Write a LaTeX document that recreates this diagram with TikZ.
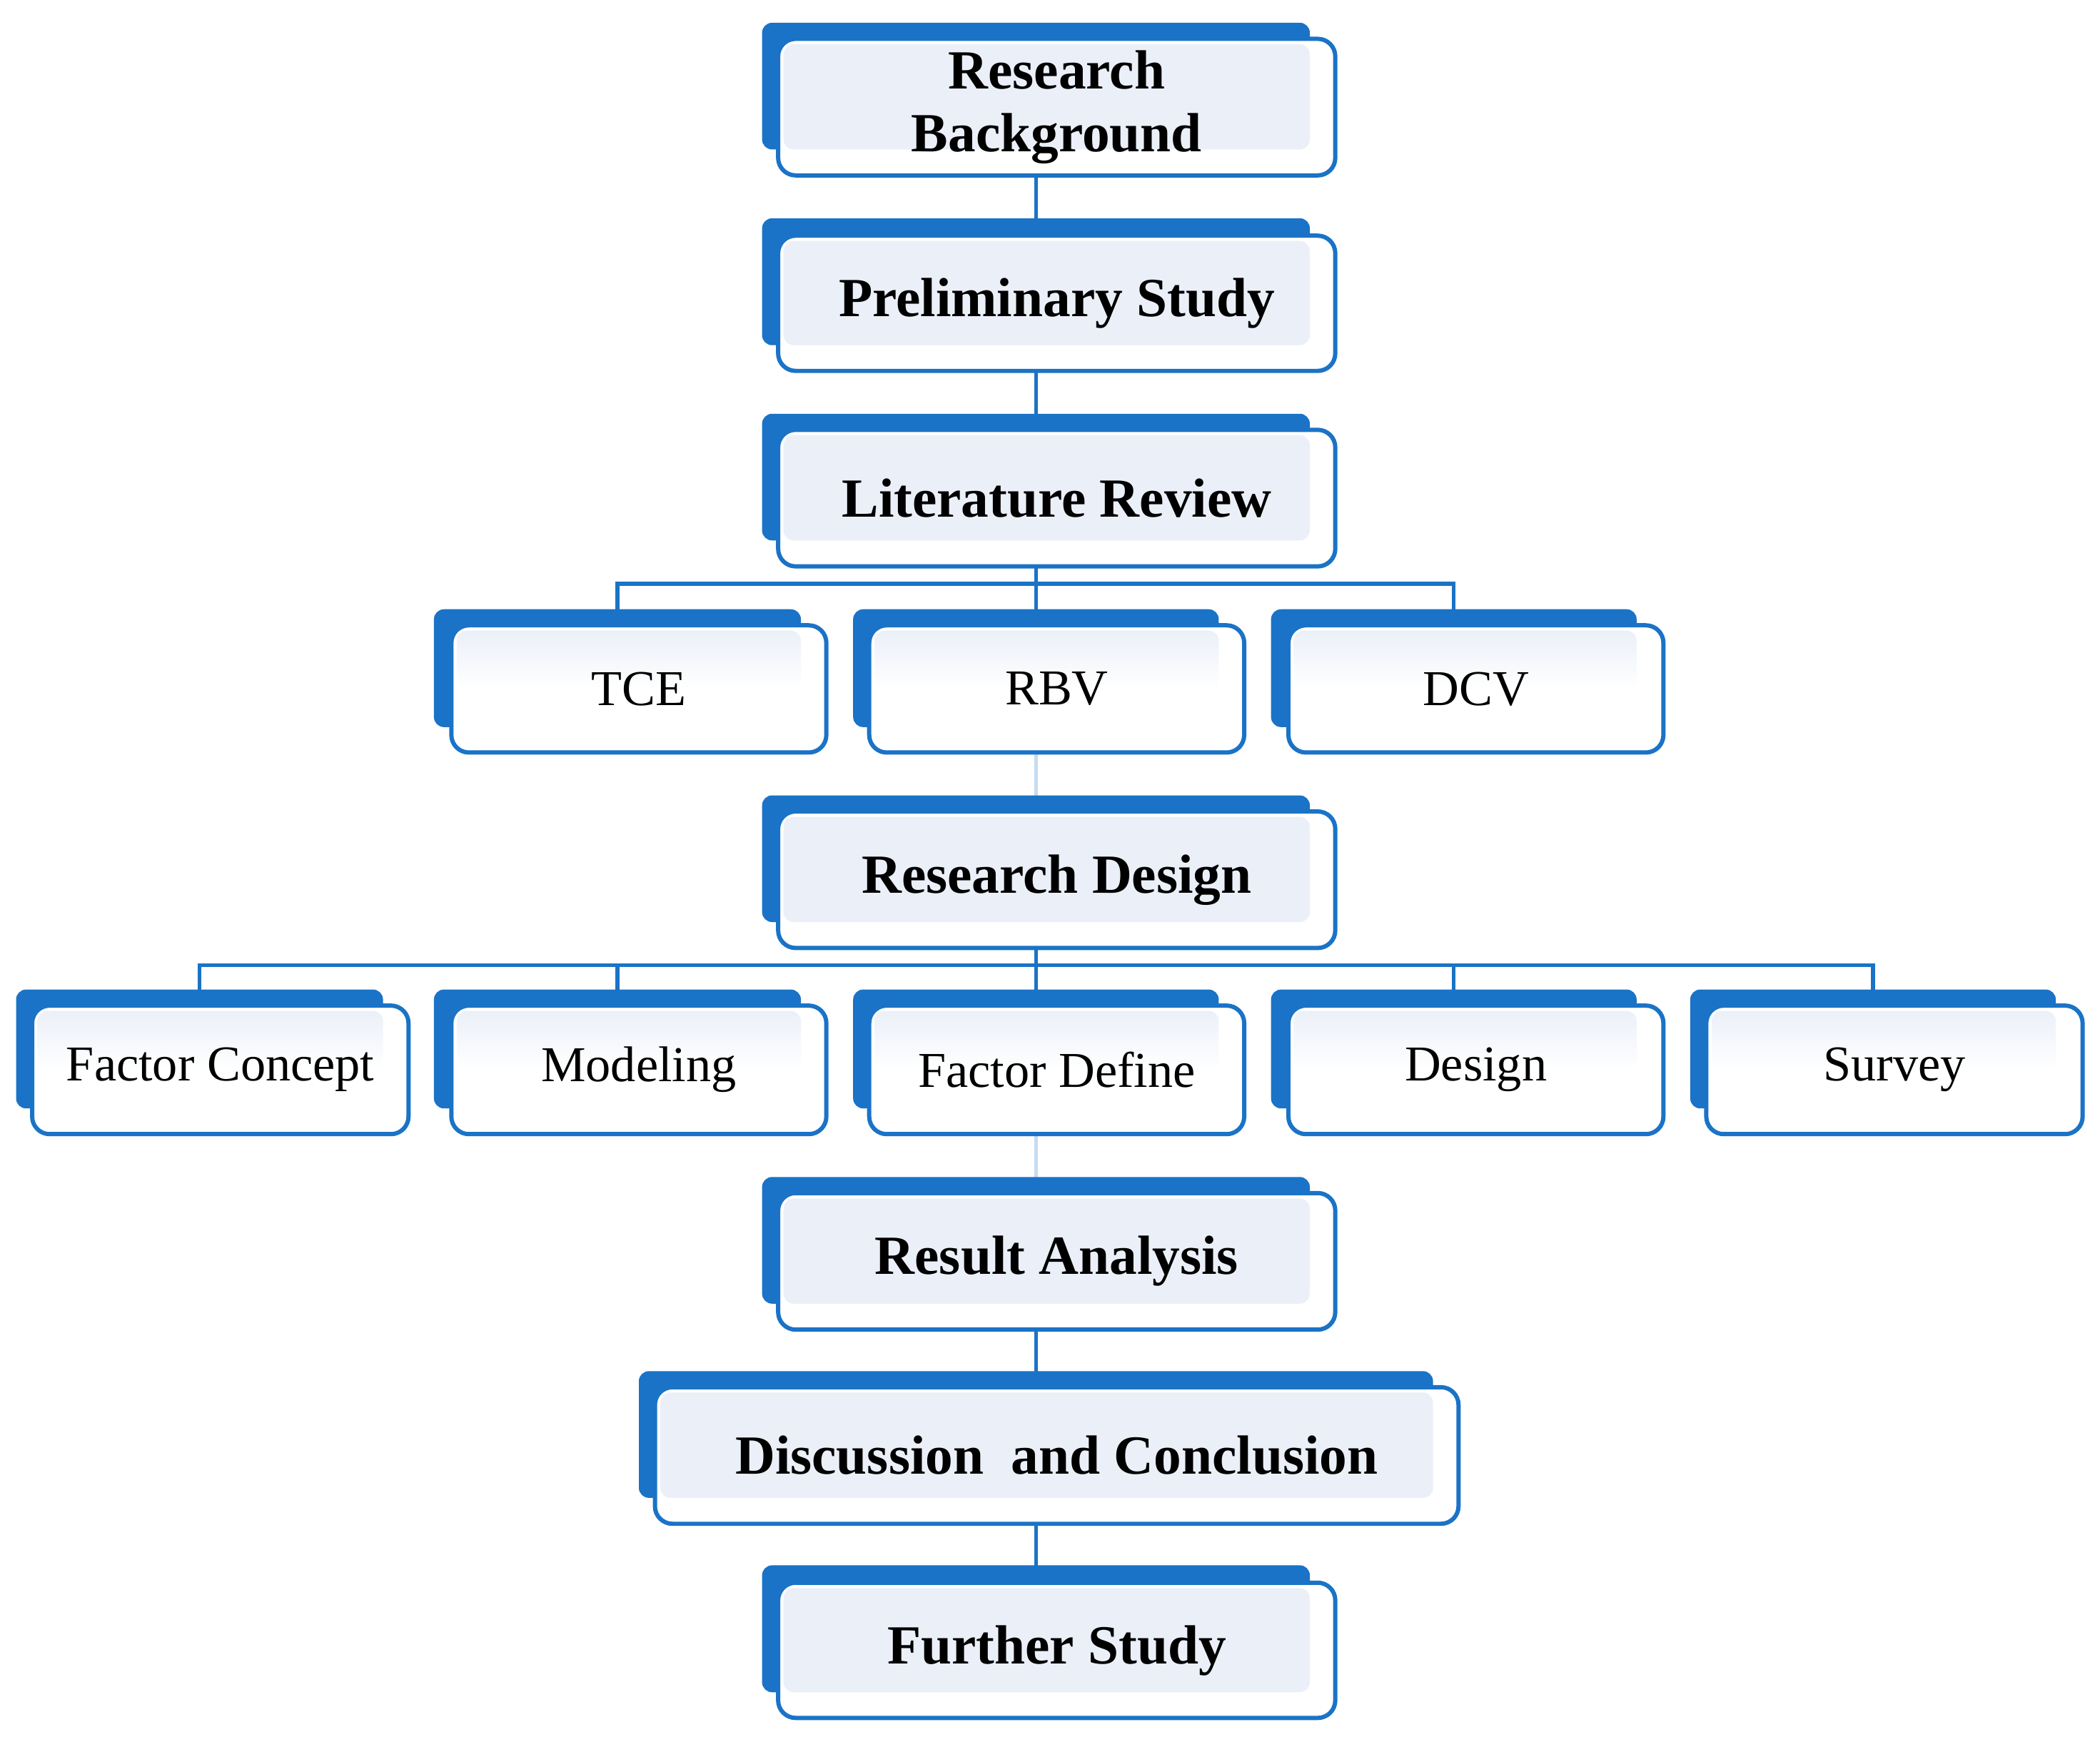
\documentclass[tikz,border=0pt]{standalone}
\usepackage{fontspec}
\setmainfont{Liberation Serif}
\usetikzlibrary{backgrounds}
\definecolor{bb}{RGB}{26,115,198}
\definecolor{lf}{RGB}{235,240,248}
\begin{document}
\begin{tikzpicture}[x=0.1876mm,y=-0.1876mm,
  back/.style={fill=bb,rounded corners=4},
  front/.style={draw=bb,line width=1.7pt,fill=white,rounded corners=7},
  conn/.style={draw=bb,line width=1.5pt},
  big/.style={font=\fontsize{22}{25}\selectfont\bfseries,align=center},
  small/.style={font=\fontsize{20}{23}\selectfont}]
\useasboundingbox (0,0) rectangle (1568,1297);
\newcommand\mainbx[9]{%
  \path[back] (#2,#3) rectangle (#4,{#8-0.19*(#8-#6)});
  \coordinate (#1B) at ({(#2+#4)/2},{(#3+#8)/2});
  \path[front] (#5,#6) rectangle (#7,#8);
  \fill[lf,rounded corners=4] (#5+4,#6+4) rectangle (#4,{#8-0.19*(#8-#6)});
  \node[big] (#1) at ({(#5+#7)/2},{(#6+#8)/2}) {#9};}
\newcommand\smallbx[9]{%
  \path[back] (#2,#3) rectangle (#4,{#8-0.2*(#8-#6)});
  \coordinate (#1B) at ({(#2+#4)/2},{(#3+#8)/2});
  \path[front] (#5,#6) rectangle (#7,#8);
  \shade[top color=lf,bottom color=white,rounded corners=4] (#5+4,#6+4) rectangle (#4,{(#6+#8)/2});
  \fill[white] (#5+4,{(#6+#8)/2-0.5}) rectangle (#4,{#8-0.2*(#8-#6)});
  \node[small] (#1) at ({(#5+#7)/2},{(#6+#8)/2}) {#9};}

\mainbx{rb}{569}{17}{978}{581}{29}{997}{131}{Research\\Background}
\mainbx{ps}{569}{163}{978}{581}{176}{997}{277}{Preliminary Study}
\mainbx{lr}{569}{309}{978}{581}{321}{997}{423}{Literature Review}
\smallbx{tce}{324}{455}{598}{337}{467}{617}{562}{TCE}
\smallbx{rbv}{637}{455}{910}{649}{467}{929}{562}{RBV}
\smallbx{dcv}{949}{455}{1222}{962}{467}{1242}{562}{DCV}
\mainbx{rd}{569}{594}{978}{581}{606}{997}{708}{Research Design}
\smallbx{fc}{12}{739}{286}{24}{751}{305}{847}{Factor Concept}
\smallbx{mo}{324}{739}{598}{337}{751}{617}{847}{Modeling}
\smallbx{fd}{637}{739}{910}{649}{751}{929}{847}{Factor Define}
\smallbx{de}{949}{739}{1222}{962}{751}{1242}{847}{Design}
\smallbx{su}{1262}{739}{1535}{1274}{751}{1555}{847}{Survey}
\mainbx{ra}{569}{879}{978}{581}{891}{997}{993}{Result Analysis}
\mainbx{dc}{477}{1024}{1070}{489}{1036}{1089}{1138}{Discussion\ \ and Conclusion}
\mainbx{fs}{569}{1169}{978}{581}{1182}{997}{1283}{Further Study}

\begin{scope}[on background layer]
\draw[conn] (rbB) -- (psB);
\draw[conn] (psB) -- (lrB);
\draw[conn] (lrB) -- (rbvB);
\draw[conn] (tceB) |- (773,436) -| (dcvB);
\draw[conn,draw=bb!25] (rbvB) -- (rdB);
\draw[conn] (rdB) -- (fdB);
\draw[conn] (fcB) |- (773,721) -| (suB);
\draw[conn] (moB) -- (moB |- 0,721);
\draw[conn] (deB) -- (deB |- 0,721);
\draw[conn,draw=bb!25] (fdB) -- (raB);
\draw[conn] (raB) -- (dcB);
\draw[conn] (dcB) -- (fsB);
\end{scope}
\end{tikzpicture}
\end{document}
